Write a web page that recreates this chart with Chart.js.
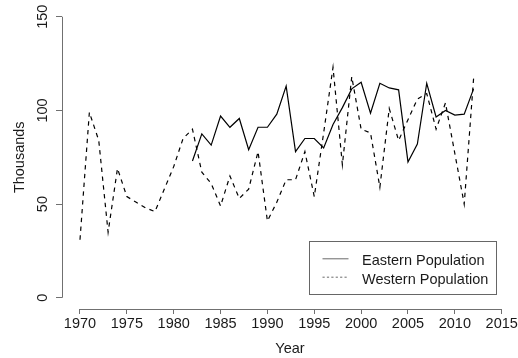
<!DOCTYPE html>
<html lang="en">
<head>
<meta charset="UTF-8" />
<title>Eastern and Western Population</title>
<script src="https://cdn.jsdelivr.net/npm/chart.js"></script>
<style>
  body { margin: 0; background: #fff; }
  canvas { display: block; }
</style>
</head>
<body>
<canvas id="popChart" width="518" height="358"></canvas>
<script>
const years = [1970, 1971, 1972, 1973, 1974, 1975, 1976, 1977, 1978, 1979,
               1980, 1981, 1982, 1983, 1984, 1985, 1986, 1987, 1988, 1989,
               1990, 1991, 1992, 1993, 1994, 1995, 1996, 1997, 1998, 1999,
               2000, 2001, 2002, 2003, 2004, 2005, 2006, 2007, 2008, 2009,
               2010, 2011, 2012];

// thousands of birds counted each year
const western = [31, 99, 84, 35, 69, 54, 51, 48, 46, 58,
                 70, 85, 90, 67, 61, 49, 65, 53, 58, 78,
                 41, 51, 63, 63, 78, 54, 88, 123, 71, 118,
                 90, 88, 59, 101, 84, 95, 106, 109, 90, 104,
                 77, 50, 117];

// eastern counts only start in 1982
const eastern = [null, null, null, null, null, null, null, null, null, null,
                 null, null, 73, 87.5, 81.5, 97, 91, 95.7, 79, 91,
                 91, 98, 113, 78, 85, 85, 80, 92.5, 101.5, 111.5,
                 115, 98.5, 114.5, 112, 111, 72.5, 82, 114.5, 96.5, 100,
                 97.5, 98, 111.5];

const xTicks = [1970, 1975, 1980, 1985, 1990, 1995, 2000, 2005, 2010, 2015];
const yTicks = [0, 50, 100, 150];

Chart.defaults.font.family = "'Liberation Sans', Arial, Helvetica, sans-serif";
Chart.defaults.font.size = 14.5;
Chart.defaults.color = '#1a1a1a';

const toPoints = vals => years.map((yr, i) => ({ x: yr, y: vals[i] }));

// axis lines run only from the first to the last tick, like base R graphics
const axisLines = {
  id: 'axisLines',
  afterDraw(chart) {
    const { ctx, chartArea, scales: { x, y } } = chart;
    const ax = Math.round(chartArea.left) + 0.5;
    const ay = Math.round(chartArea.bottom) + 0.5;
    ctx.save();
    ctx.strokeStyle = '#707070';
    ctx.lineWidth = 1;
    ctx.beginPath();
    ctx.moveTo(x.getPixelForValue(xTicks[0]), ay);
    ctx.lineTo(x.getPixelForValue(xTicks[xTicks.length - 1]), ay);
    ctx.moveTo(ax, y.getPixelForValue(yTicks[0]));
    ctx.lineTo(ax, y.getPixelForValue(yTicks[yTicks.length - 1]));
    ctx.stroke();
    ctx.restore();
  }
};

// boxed legend in the bottom right corner of the plot
const boxLegend = {
  id: 'boxLegend',
  afterDraw(chart) {
    const { ctx, chartArea } = chart;
    const w = 187, h = 53;
    const right = Math.round(chartArea.right - 22) + 0.5;
    const bottom = Math.round(chartArea.bottom - 15) + 0.5;
    const left = right - w, top = bottom - h;
    ctx.save();
    ctx.strokeStyle = '#666';
    ctx.lineWidth = 1;
    ctx.strokeRect(left, top, w, h);
    ctx.font = "14.5px 'Liberation Sans', Arial, sans-serif";
    ctx.fillStyle = '#1a1a1a';
    ctx.textBaseline = 'alphabetic';
    chart.data.datasets.forEach((ds, i) => {
      const ly = top + 17.3 + i * 18.4;
      ctx.beginPath();
      ctx.strokeStyle = '#444';
      ctx.lineWidth = 0.8;
      ctx.setLineDash(ds.borderDash && ds.borderDash.length ? [2.2, 2.2] : []);
      ctx.moveTo(left + 13, ly);
      ctx.lineTo(left + 39, ly);
      ctx.stroke();
      ctx.setLineDash([]);
      ctx.fillText(ds.label, left + 52.5, ly + 6.4);
    });
    ctx.restore();
  }
};

const ctx = document.getElementById('popChart').getContext('2d');
new Chart(ctx, {
  type: 'line',
  data: {
    datasets: [
      {
        label: 'Eastern Population',
        data: toPoints(eastern),
        borderColor: '#000',
        borderWidth: 1.2,
        borderDash: [],
        pointRadius: 0,
        tension: 0,
        spanGaps: false
      },
      {
        label: 'Western Population',
        data: toPoints(western),
        borderColor: '#000',
        borderWidth: 1.2,
        borderDash: [4.4, 4.4],
        pointRadius: 0,
        tension: 0
      }
    ]
  },
  options: {
    responsive: false,
    animation: false,
    layout: { padding: { top: 5.5, right: 0, bottom: 0, left: 0 } },
    plugins: {
      legend: { display: false },
      tooltip: { enabled: false }
    },
    scales: {
      x: {
        type: 'linear',
        min: 1968.08,
        max: 2016.74,
        border: { display: false },
        grid: { drawOnChartArea: false, tickLength: 5, color: '#707070' },
        ticks: { padding: 1.3, maxRotation: 0, autoSkip: false, callback: v => String(v) },
        title: { display: true, text: 'Year', padding: { top: 0, bottom: 0.3 } },
        afterBuildTicks: scale => { scale.ticks = xTicks.map(v => ({ value: v })); },
        afterFit: scale => {
          scale.height = 49;
          scale.paddingLeft = 0;
          scale.paddingRight = 0;
        }
      },
      y: {
        min: -6,
        max: 156,
        border: { display: false },
        grid: { drawOnChartArea: false, tickLength: 6, color: '#707070' },
        ticks: { padding: 1, minRotation: 90, maxRotation: 90, crossAlign: 'center', callback: v => String(v) },
        title: { display: true, text: 'Thousands', padding: { top: 11.3, bottom: 0 } },
        afterBuildTicks: scale => { scale.ticks = yTicks.map(v => ({ value: v })); },
        afterFit: scale => {
          scale.width = 62;
          scale.paddingTop = 0;
          scale.paddingBottom = 0;
        }
      }
    }
  },
  plugins: [axisLines, boxLegend]
});
</script>
</body>
</html>
